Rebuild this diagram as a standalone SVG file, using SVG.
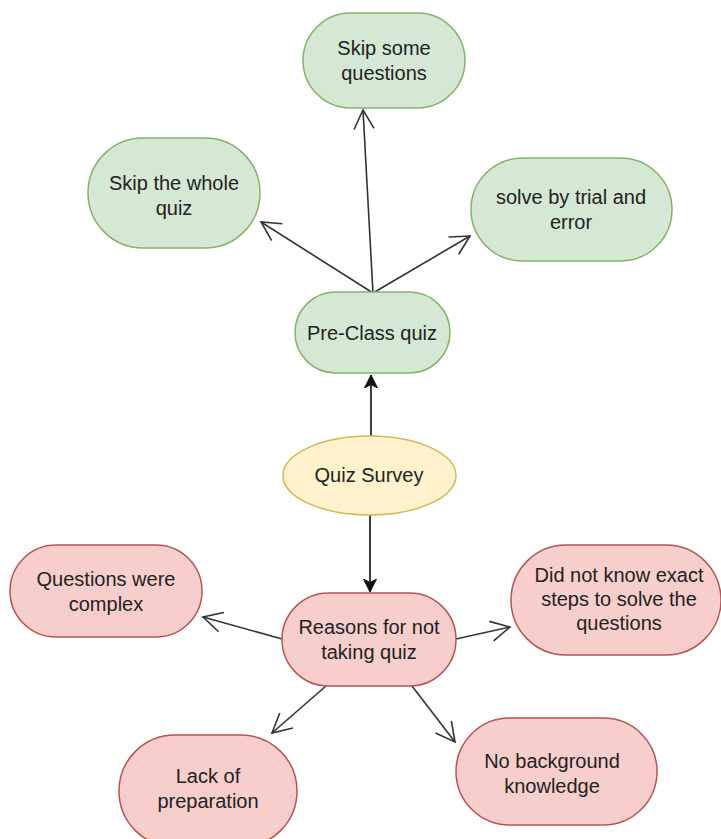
<svg xmlns="http://www.w3.org/2000/svg" width="721" height="839" viewBox="0 0 721 839">
  <defs>
    <marker id="open" viewBox="0 0 22 22" refX="20" refY="11" markerWidth="22" markerHeight="22" markerUnits="userSpaceOnUse" orient="auto">
      <path d="M1,1 L20,11 L1,21" fill="none" stroke="#333" stroke-width="1.6"/>
    </marker>
    <marker id="classic" viewBox="0 0 14 14" refX="13" refY="7" markerWidth="14" markerHeight="14" markerUnits="userSpaceOnUse" orient="auto">
      <path d="M0,0.5 L13,7 L0,13.5 L3.5,7 Z" fill="#111" stroke="#111" stroke-width="1"/>
    </marker>
  </defs>
  <style>
    .green { fill: #d5e8d4; stroke: #82b366; stroke-width: 1.5; }
    .yellow { fill: #fff2cc; stroke: #d6b656; stroke-width: 1.5; }
    .red { fill: #f8cecc; stroke: #b85450; stroke-width: 1.5; }
    .lbl { font-family: "Liberation Sans", Arial, sans-serif; font-size: 20px; fill: #222; text-anchor: middle; }
    .edge { fill: none; stroke: #333; stroke-width: 1.6; }
    .solid { fill: none; stroke: #111; stroke-width: 1.6; }
  </style>
  <rect width="721" height="839" fill="#ffffff"/>

  <g id="connectors">
    <line class="edge" x1="373" y1="293" x2="363" y2="110" marker-end="url(#open)"/>
    <line class="edge" x1="373" y1="293" x2="261" y2="222" marker-end="url(#open)"/>
    <line class="edge" x1="373" y1="293" x2="470" y2="236" marker-end="url(#open)"/>
    <line class="solid" x1="371" y1="436" x2="371" y2="375" marker-end="url(#classic)"/>
    <line class="solid" x1="370" y1="515" x2="370" y2="592" marker-end="url(#classic)"/>
    <line class="edge" x1="282" y1="639" x2="203" y2="617" marker-end="url(#open)"/>
    <line class="edge" x1="456" y1="639" x2="510" y2="627" marker-end="url(#open)"/>
    <line class="edge" x1="326" y1="686" x2="272" y2="733" marker-end="url(#open)"/>
    <line class="edge" x1="412" y1="686" x2="455" y2="742" marker-end="url(#open)"/>
  </g>

  <g id="skip-some">
    <rect class="green" x="303" y="13" width="162" height="95" rx="47.5"/>
    <text class="lbl" x="384" y="55">Skip some</text>
    <text class="lbl" x="384" y="80">questions</text>
  </g>
  <g id="skip-whole">
    <rect class="green" x="88" y="138" width="172" height="110" rx="55"/>
    <text class="lbl" x="174" y="190">Skip the whole</text>
    <text class="lbl" x="174" y="215">quiz</text>
  </g>
  <g id="trial-error">
    <rect class="green" x="471" y="158" width="201" height="103" rx="51.5"/>
    <text class="lbl" x="571" y="204">solve by trial and</text>
    <text class="lbl" x="571" y="229">error</text>
  </g>
  <g id="pre-class">
    <rect class="green" x="295" y="292" width="155" height="81" rx="40.5"/>
    <text class="lbl" x="372" y="340">Pre-Class quiz</text>
  </g>
  <g id="quiz-survey">
    <ellipse class="yellow" cx="369.5" cy="475.5" rx="86.5" ry="39.5"/>
    <text class="lbl" x="369" y="482">Quiz Survey</text>
  </g>
  <g id="reasons">
    <rect class="red" x="282" y="593" width="174" height="93" rx="46.5"/>
    <text class="lbl" x="369" y="634">Reasons for not</text>
    <text class="lbl" x="369" y="659">taking quiz</text>
  </g>
  <g id="complex">
    <rect class="red" x="10" y="545" width="192" height="92" rx="46"/>
    <text class="lbl" x="106" y="586">Questions were</text>
    <text class="lbl" x="106" y="611">complex</text>
  </g>
  <g id="exact-steps">
    <rect class="red" x="511" y="545" width="210" height="110" rx="55"/>
    <text class="lbl" x="619" y="582">Did not know exact</text>
    <text class="lbl" x="619" y="606">steps to solve the</text>
    <text class="lbl" x="619" y="630">questions</text>
  </g>
  <g id="preparation">
    <rect class="red" x="119" y="735" width="178" height="112" rx="56"/>
    <text class="lbl" x="208" y="783">Lack of</text>
    <text class="lbl" x="208" y="808">preparation</text>
  </g>
  <g id="background">
    <rect class="red" x="456" y="718" width="201" height="107" rx="53.5"/>
    <text class="lbl" x="552" y="768">No background</text>
    <text class="lbl" x="552" y="793">knowledge</text>
  </g>
</svg>
